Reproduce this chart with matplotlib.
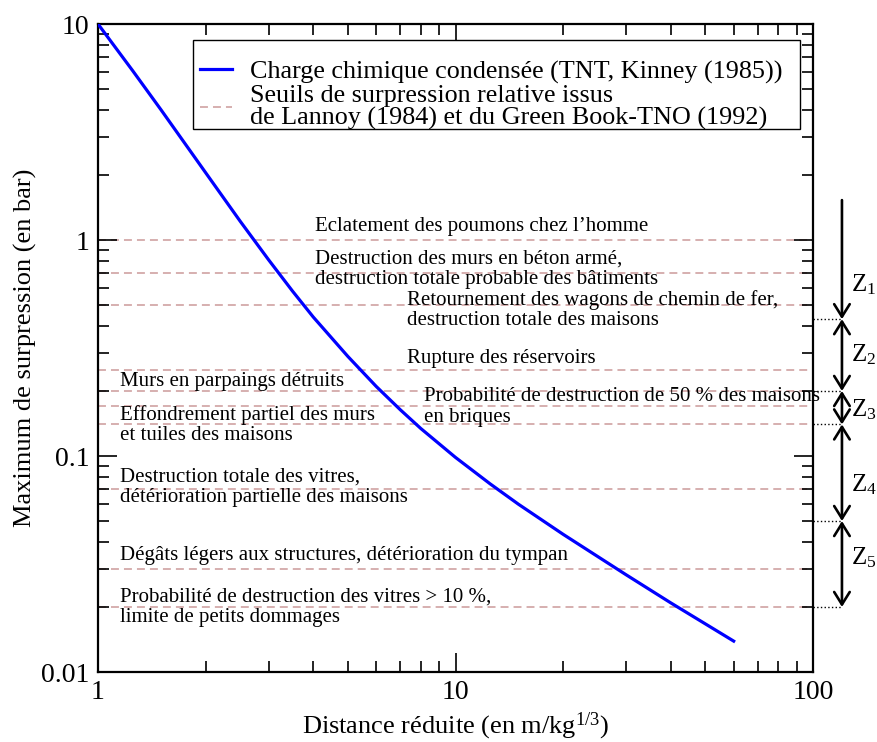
import matplotlib
matplotlib.use('Agg')
import matplotlib.pyplot as plt
from matplotlib.patches import Rectangle
from matplotlib.ticker import FuncFormatter, NullFormatter, LogLocator

plt.rcParams['font.family'] = ['Liberation Serif', 'DejaVu Serif']
plt.rcParams['mathtext.fontset'] = 'custom'
plt.rcParams['mathtext.rm'] = 'Liberation Serif'
plt.rcParams['mathtext.it'] = 'Liberation Serif:italic'
plt.rcParams['mathtext.bf'] = 'Liberation Serif:bold'

# ---------------- data ----------------
distance_z = [1.0, 1.25, 1.5, 2.0, 2.5, 3.0, 3.5, 4.0, 5.0, 6.0, 7.0, 8.0,
              10.0, 12.5, 15.0, 20.0, 30.0, 40.0, 50.0, 60.0]
overpressure = [10.0, 6.08, 4.01, 2.05, 1.22, 0.81, 0.58, 0.44, 0.289, 0.210,
                0.164, 0.134, 0.0985, 0.0743, 0.0598, 0.0434, 0.0282, 0.0209,
                0.0167, 0.0139]

thresholds = [1.0, 0.7, 0.5, 0.25, 0.2, 0.17, 0.14, 0.07, 0.03, 0.02]
threshold_labels = [
    "Eclatement des poumons chez l\u2019homme",
    "Destruction des murs en béton armé,\ndestruction totale probable des bâtiments",
    "Retournement des wagons de chemin de fer,\ndestruction totale des maisons",
    "Rupture des réservoirs",
    "Murs en parpaings détruits",
    "Probabilité de destruction de 50 % des maisons\nen briques",
    "Effondrement partiel des murs\net tuiles des maisons",
    "Destruction totale des vitres,\ndétérioration partielle des maisons",
    "Dégâts légers aux structures, détérioration du tympan",
    "Probabilité de destruction des vitres > 10 %,\nlimite de petits dommages",
]

zone_bounds = [1.53, 0.43, 0.2, 0.14, 0.05, 0.02]
zone_names = ["Z$_\\mathrm{1}$", "Z$_\\mathrm{2}$", "Z$_\\mathrm{3}$",
              "Z$_\\mathrm{4}$", "Z$_\\mathrm{5}$"]

curve_label = "Charge chimique condensée (TNT, Kinney (1985))"
threshold_legend = "Seuils de surpression relative issus\nde Lannoy (1984) et du Green Book-TNO (1992)"
x_tick_values = [1, 10, 100]
y_tick_values = [0.01, 0.1, 1, 10]

# ---------------- layout (positions) ----------------
label_pos = [(4.05, 1.16), (4.05, 0.734), (7.32, 0.474), (7.32, 0.284),
             (1.152, 0.222), (8.16, 0.1686), (1.152, 0.139), (1.152, 0.0718),
             (1.152, 0.0348), (1.152, 0.0200)]
zone_label_y = [0.619, 0.293, 0.163, 0.0734, 0.034]
arrow_x = 120.5
zone_text_x = 128.0

W, H = 877, 742
fig = plt.figure(figsize=(W / 100, H / 100), dpi=100)
ax = fig.add_axes([98 / W, 1 - 672 / H, 715 / W, 648 / H])
ax.set_xscale('log')
ax.set_yscale('log')
ax.set_xlim(1, 100)
ax.set_ylim(0.01, 10)

dash_color = '#cc9a9a'
for i, t in enumerate(thresholds):
    ax.plot([1, 100], [t, t], color=dash_color, lw=1.1,
            linestyle=(0, (5.2, 3.3)),
            label=threshold_legend if i == 0 else None, zorder=1)

line, = ax.plot(distance_z, overpressure, color='#0000ff', lw=2.3,
                label=curve_label, zorder=3)

for (tx, ty), lab in zip(label_pos, threshold_labels):
    ax.text(tx, ty, lab, fontsize=15, ha='left', va='center',
            linespacing=1.1, zorder=2)

# zones on the right
for i in range(len(zone_names)):
    top, bot = zone_bounds[i], zone_bounds[i + 1]
    style = '->' if i == 0 else '<->'
    ax.annotate('', xy=(arrow_x, bot), xytext=(arrow_x, top),
                arrowprops=dict(arrowstyle=style + ',head_length=0.45,head_width=0.28',
                                lw=1.9, color='black', shrinkA=0, shrinkB=0,
                                mutation_scale=20),
                annotation_clip=False)
    ax.text(zone_text_x, zone_label_y[i], zone_names[i], fontsize=18,
            ha='left', va='center', clip_on=False)
for b in zone_bounds[1:]:
    ax.plot([100, arrow_x], [b, b], color='black', lw=1.0, linestyle=':',
            clip_on=False)

# ticks
ax.xaxis.set_major_locator(LogLocator(base=10))
ax.yaxis.set_major_locator(LogLocator(base=10))
ax.xaxis.set_minor_locator(LogLocator(base=10, subs=range(2, 10)))
ax.yaxis.set_minor_locator(LogLocator(base=10, subs=range(2, 10)))
ax.set_xticks(x_tick_values)
ax.set_yticks(y_tick_values)
fmt = FuncFormatter(lambda v, p: '%g' % v)
ax.xaxis.set_major_formatter(fmt)
ax.yaxis.set_major_formatter(fmt)
ax.xaxis.set_minor_formatter(NullFormatter())
ax.yaxis.set_minor_formatter(NullFormatter())
ax.tick_params(which='both', direction='in', top=True, right=True,
               labelsize=20, pad=6)
ax.tick_params(which='major', length=14, width=1.2)
ax.tick_params(which='minor', length=8, width=1.2)
for s in ax.spines.values():
    s.set_linewidth(1.6)

ax.set_xlabel("Distance réduite (en m/kg$^{\\mathrm{1/3}}$)", fontsize=19, labelpad=4)
ax.set_ylabel("Maximum de surpression (en bar)", fontsize=19, labelpad=3)

# legend: manual frame + frameless legend
frame = Rectangle((193 / W, 1 - 129 / H), 607 / W, 89 / H,
                  transform=fig.transFigure, facecolor='white',
                  edgecolor='black', lw=1.0, zorder=4, clip_on=False)
ax.add_patch(frame)

handles, labels = ax.get_legend_handles_labels()
order = [labels.index(curve_label), labels.index(threshold_legend)]
leg = ax.legend([handles[k] for k in order], [labels[k] for k in order],
                loc='upper left', bbox_to_anchor=(200 / W, 1 - 60 / H),
                bbox_transform=fig.transFigure,
                fontsize=18.85, frameon=False, borderpad=0, handlelength=1.23,
                handletextpad=0.69, labelspacing=0.05, borderaxespad=0)
leg.set_zorder(5)
for t in leg.get_texts():
    t.set_linespacing(1.0)

fig.savefig('out.png', dpi=100)
